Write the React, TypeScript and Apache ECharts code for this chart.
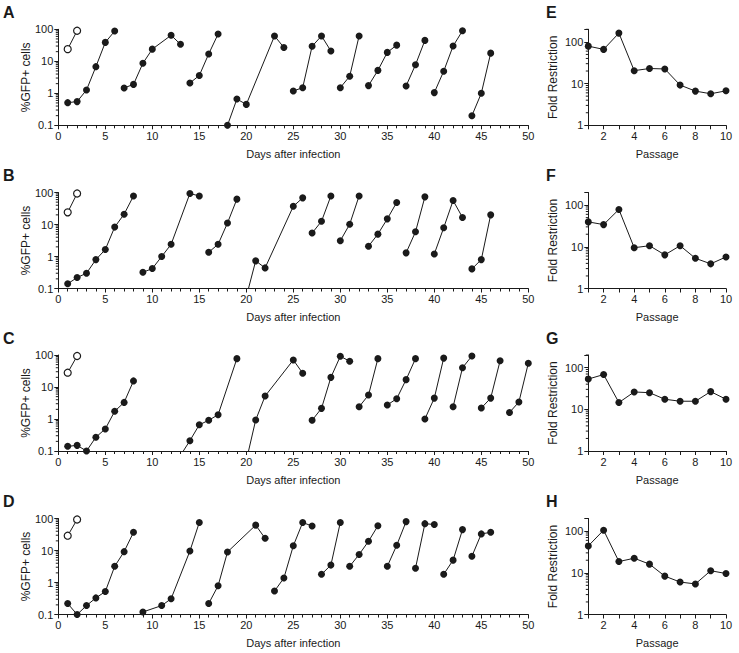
import React, { useEffect, useRef } from "react";
import * as echarts from "echarts";

type Pt = [number, number];

const FONT = "'Liberation Sans', Arial, Helvetica, sans-serif";
const INK = "#1a1a1a";

// Mock-infected control wells (open circles), days 1-2
const mockDays = [1, 2];
const mockA = [24, 90];
const mockB = [24, 93];
const mockC = [28, 93];
const mockD = [29, 93];

// Serial passage runs: [day after infection, %GFP+ cells]
const runsA: Pt[][] = [
  [[1, 0.51], [2, 0.55], [3, 1.27], [4, 6.8], [5, 39], [6, 88]],
  [[7, 1.47], [8, 1.9], [9, 8.7], [10, 24], [12, 65], [13, 34]],
  [[14, 2.1], [15, 3.6], [16, 17], [17, 71]],
  [[18, 0.1], [19, 0.66], [20, 0.45], [23, 62], [24, 27]],
  [[25, 1.18], [26, 1.5], [27, 29.5], [28, 62], [29, 21]],
  [[30, 1.5], [31, 3.4], [32, 62]],
  [[33, 1.74], [34, 5.2], [35, 19], [36, 32]],
  [[37, 1.7], [38, 7.8], [39, 45]],
  [[40, 1.05], [41, 4.9], [42, 30], [43, 90]],
  [[44, 0.2], [45, 1.0], [46, 18]],
];

const runsB: Pt[][] = [
  [[1, 0.14], [2, 0.22], [3, 0.3], [4, 0.8], [5, 1.65], [6, 8.3], [7, 21], [8, 78]],
  [[9, 0.32], [10, 0.42], [11, 1.0], [12, 2.4], [14, 93], [15, 78]],
  [[16, 1.36], [17, 2.4], [18, 11.2], [19, 62]],
  [[20, 0.055], [21, 0.73], [22, 0.44], [25, 37], [26, 68]],
  [[27, 5.4], [28, 12.6], [29, 78]],
  [[30, 3.1], [31, 10.2], [32, 78]],
  [[33, 2.1], [34, 5], [35, 15], [36, 49]],
  [[37, 1.3], [38, 5.9], [39, 73]],
  [[40, 1.2], [41, 7.9], [42, 56], [43, 16.6]],
  [[44, 0.41], [45, 0.8], [46, 20]],
];

const runsC: Pt[][] = [
  [[1, 0.14], [2, 0.15], [3, 0.1], [4, 0.27], [5, 0.49], [6, 1.74], [7, 3.3], [8, 15.5]],
  [[13, 0.073], [14, 0.21], [15, 0.66], [16, 0.91], [17, 1.36], [19, 77]],
  [[20, 0.05], [21, 0.93], [22, 5.2], [25, 70], [26, 27]],
  [[27, 0.91], [28, 2.15], [29, 20], [30, 91], [31, 64]],
  [[32, 2.4], [33, 5.6], [34, 77]],
  [[35, 2.75], [36, 4.3], [37, 17], [38, 77]],
  [[39, 1.0], [40, 4.5], [41, 80]],
  [[42, 2.4], [43, 40], [44, 93]],
  [[45, 2.2], [46, 4.5], [47, 66]],
  [[48, 1.6], [49, 3.4], [50, 55]],
];

const runsD: Pt[][] = [
  [[1, 0.22], [2, 0.1], [3, 0.19], [4, 0.33], [5, 0.52], [6, 3.2], [7, 9.2], [8, 37]],
  [[9, 0.12], [11, 0.19], [12, 0.31], [14, 9.6], [15, 75]],
  [[16, 0.22], [17, 0.79], [18, 9], [21, 62], [22, 24]],
  [[23, 0.54], [24, 1.38], [25, 14], [26, 75], [27, 58]],
  [[28, 1.8], [29, 3.5], [30, 75]],
  [[31, 3.2], [32, 7.5], [33, 19.4], [34, 59]],
  [[35, 3.2], [36, 14.5], [37, 80]],
  [[38, 2.8], [39, 69], [40, 65]],
  [[41, 1.8], [42, 5], [43, 45]],
  [[44, 6.6], [45, 33], [46, 37]],
];

// Fold restriction per passage
const passage = [1, 2, 3, 4, 5, 6, 7, 8, 9, 10];
const foldE = [79, 66, 162, 20.4, 23, 22.4, 9.2, 6.6, 5.7, 6.7];
const foldF = [39.5, 34, 78.5, 9.5, 10.6, 6.4, 10.6, 5.3, 3.9, 5.7];
const foldG = [53, 68, 14.5, 26, 25, 17.4, 15.6, 15.6, 26.5, 17.4];
const foldH = [44, 105, 18.6, 22.3, 16.1, 8.3, 6, 5.4, 11.2, 9.6];

// Log-axis minor tick positions
const gfpMinorTicks = [
  0.2, 0.3, 0.4, 0.5, 0.6, 0.7, 0.8, 0.9,
  2, 3, 4, 5, 6, 7, 8, 9,
  20, 30, 40, 50, 60, 70, 80, 90,
];
const foldMinorTicks = [2, 3, 4, 5, 6, 7, 8, 9, 20, 30, 40, 50, 60, 70, 80, 90, 200];

const leftPanels = [
  { letter: "A", mock: mockA, runs: runsA },
  { letter: "B", mock: mockB, runs: runsB },
  { letter: "C", mock: mockC, runs: runsC },
  { letter: "D", mock: mockD, runs: runsD },
];
const rightPanels = [
  { letter: "E", fold: foldE },
  { letter: "F", fold: foldF },
  { letter: "G", fold: foldG },
  { letter: "H", fold: foldH },
];

const ROW_TOPS = [29.3, 192.5, 355, 518.5];
const ROW_H = 96;
const LEFT_X = 58.3;
const LEFT_W = 470;
const RIGHT_X = 588.3;
const RIGHT_W = 137.7;

const textStyle = { color: INK, fontFamily: FONT, fontSize: 11 };
const yNameStyle = { color: INK, fontFamily: FONT, fontSize: 12 };

function minorTicks(axisIndex: number, xAt: number, values: number[]) {
  return {
    type: "custom",
    xAxisIndex: axisIndex,
    yAxisIndex: axisIndex,
    silent: true,
    clip: false,
    z: 5,
    data: values.map((v) => [xAt, v]),
    renderItem: (_params: any, api: any) => {
      const p = api.coord([api.value(0), api.value(1)]);
      return {
        type: "line",
        shape: { x1: p[0] - 2.5, y1: p[1], x2: p[0], y2: p[1] },
        style: { stroke: INK, lineWidth: 1 },
      };
    },
  };
}

function buildOption() {
  const grid: any[] = [];
  const xAxis: any[] = [];
  const yAxis: any[] = [];
  const series: any[] = [];
  const graphic: any[] = [];

  const axisLine = { show: true, onZero: false, lineStyle: { color: INK, width: 1 } };

  leftPanels.forEach((panel, i) => {
    grid.push({ left: LEFT_X, top: ROW_TOPS[i], width: LEFT_W, height: ROW_H, outerBoundsMode: "none" });
    xAxis.push({
      gridIndex: i,
      type: "value",
      min: 0,
      max: 50,
      interval: 5,
      axisLine,
      axisTick: { show: true, length: 4, lineStyle: { color: INK } },
      minorTick: { show: true, splitNumber: 5, length: 3, lineStyle: { color: INK } },
      splitLine: { show: false },
      minorSplitLine: { show: false },
      axisLabel: { ...textStyle, margin: 5 },
      name: "Days after infection",
      nameLocation: "middle",
      nameGap: 23,
      nameMoveOverlap: false,
      nameTextStyle: textStyle,
    });
    yAxis.push({
      gridIndex: i,
      type: "log",
      logBase: 10,
      min: 0.1,
      max: 100,
      axisLine,
      axisTick: { show: true, length: 4, lineStyle: { color: INK } },
      splitLine: { show: false },
      axisLabel: { ...textStyle, margin: 5 },
      name: "%GFP+ cells",
      nameLocation: "middle",
      nameGap: 26,
      nameMoveOverlap: false,
      nameTextStyle: yNameStyle,
    });
    series.push(minorTicks(i, 0, gfpMinorTicks));
    series.push({
      type: "line",
      xAxisIndex: i,
      yAxisIndex: i,
      data: mockDays.map((d, k) => [d, panel.mock[k]]),
      symbol: "circle",
      symbolSize: 7,
      clip: false,
      lineStyle: { color: INK, width: 1 },
      itemStyle: { color: "#ffffff", borderColor: INK, borderWidth: 1.2 },
      z: 3,
    });
    panel.runs.forEach((run) => {
      const dipsBelow = run.some((p) => p[1] < 0.1);
      series.push({
        type: "line",
        xAxisIndex: i,
        yAxisIndex: i,
        data: run,
        symbol: "circle",
        symbolSize: 7,
        clip: dipsBelow,
        lineStyle: { color: INK, width: 1 },
        itemStyle: { color: INK },
        z: 3,
      });
    });
    graphic.push({
      type: "text",
      x: 3,
      y: ROW_TOPS[i] - 17,
      style: { text: panel.letter, font: `bold 16px ${FONT}`, fill: INK, verticalAlign: "middle" },
    });
  });

  rightPanels.forEach((panel, j) => {
    const idx = leftPanels.length + j;
    grid.push({ left: RIGHT_X, top: ROW_TOPS[j], width: RIGHT_W, height: ROW_H, outerBoundsMode: "none" });
    xAxis.push({
      gridIndex: idx,
      type: "value",
      min: 1,
      max: 10,
      interval: 1,
      axisLine,
      axisTick: { show: true, length: 4, lineStyle: { color: INK } },
      splitLine: { show: false },
      axisLabel: {
        ...textStyle,
        margin: 5,
        formatter: (v: number) => (v % 2 === 0 ? String(v) : ""),
      },
      name: "Passage",
      nameLocation: "middle",
      nameGap: 23,
      nameMoveOverlap: false,
      nameTextStyle: textStyle,
    });
    yAxis.push({
      gridIndex: idx,
      type: "log",
      logBase: 10,
      min: 1,
      max: 200,
      axisLine,
      axisTick: { show: true, length: 4, lineStyle: { color: INK } },
      splitLine: { show: false },
      axisLabel: {
        ...textStyle,
        margin: 5,
        formatter: (v: number) => (v > 150 ? "" : String(Math.round(v))),
      },
      name: "Fold Restriction",
      nameLocation: "middle",
      nameGap: 29,
      nameMoveOverlap: false,
      nameTextStyle: yNameStyle,
    });
    series.push(minorTicks(idx, 1, foldMinorTicks));
    series.push({
      type: "line",
      xAxisIndex: idx,
      yAxisIndex: idx,
      data: passage.map((p, k) => [p, panel.fold[k]]),
      symbol: "circle",
      symbolSize: 7,
      clip: false,
      lineStyle: { color: INK, width: 1 },
      itemStyle: { color: INK },
      z: 3,
    });
    graphic.push({
      type: "text",
      x: 546,
      y: ROW_TOPS[j] - 17,
      style: { text: panel.letter, font: `bold 16px ${FONT}`, fill: INK, verticalAlign: "middle" },
    });
  });

  return {
    animation: false,
    backgroundColor: "#ffffff",
    textStyle: { fontFamily: FONT },
    grid,
    xAxis,
    yAxis,
    series,
    graphic,
  };
}

export default function App() {
  const ref = useRef<HTMLDivElement>(null);

  useEffect(() => {
    if (!ref.current) return;
    const chart = echarts.init(ref.current, undefined, { renderer: "svg" });
    chart.setOption(buildOption() as any);
    return () => chart.dispose();
  }, []);

  return (
    <div
      ref={ref}
      style={{ position: "absolute", left: 0, top: 0, width: 739, height: 653, background: "#fff" }}
    />
  );
}
